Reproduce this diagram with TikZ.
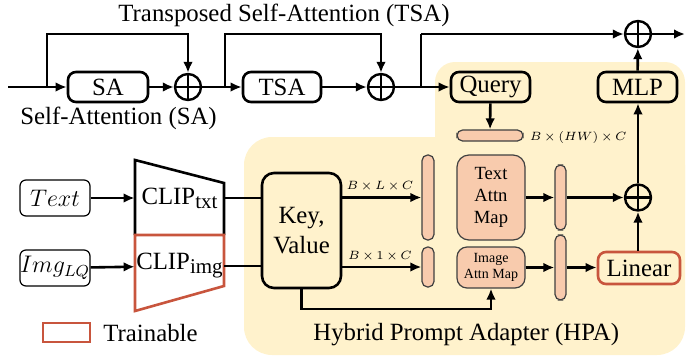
\documentclass[tikz,border=0pt]{standalone}
\usepackage{fontspec}
\setmainfont{Liberation Serif}
\usetikzlibrary{arrows.meta,calc}
\definecolor{bgyellow}{HTML}{FFF2CC}
\definecolor{salmon}{HTML}{F8CBAD}
\definecolor{salborder}{HTML}{404040}
\definecolor{trainred}{HTML}{C8553D}
\newcommand{\tms}{\,{\times}\,}
\begin{document}
\begin{tikzpicture}[x=0.5pt,y=-0.5pt,
  font=\fontsize{12.4}{14}\selectfont,
  arr/.style={-{Latex[length=5.5pt,width=4.8pt]}, line width=1.3pt},
  ln/.style={line width=1.3pt},
  blk/.style={draw, line width=1.3pt, rounded corners=4pt, inner sep=0pt},
  inbox/.style={draw, line width=0.6pt, rounded corners=3pt, inner sep=0pt, minimum width=35pt, minimum height=18pt},
  sal/.style={draw=salborder, fill=salmon, line width=0.6pt, inner sep=0pt},
  pill/.style={sal, rounded corners=2.8pt},
  oplus/.style={circle, draw, line width=1.2pt, minimum size=13pt, inner sep=0pt,
    path picture={\draw[line width=1.2pt] (path picture bounding box.north) -- (path picture bounding box.south)
      (path picture bounding box.west) -- (path picture bounding box.east);}},
  dimlbl/.style={font=\fontsize{6.1}{7}\selectfont, inner sep=0pt},
  plain/.style={inner sep=0pt}
]
\useasboundingbox (0,0) rectangle (686,360);
% background
\fill[bgyellow, rounded corners=14pt] (244,137) rectangle (685,355);
\fill[bgyellow, rounded corners=10pt] (435,62) rectangle (685,220);

% top row
\node[blk, minimum width=40pt, minimum height=15pt] (SA) at (108,87) {SA};
\node[oplus] (c1) at (188,87) {};
\node[blk, minimum width=39pt, minimum height=15pt] (TSA) at (282,87) {TSA};
\node[oplus] (c2) at (381,87) {};
\node[blk, minimum width=39.5pt, minimum height=15pt] (Q) at (490.5,87) {Query};
\node[blk, minimum width=39.5pt, minimum height=15pt] (MLP) at (637.5,87) {MLP};
\node[oplus] (c3) at (638,34) {};
\node[pill, minimum width=33pt, minimum height=5.5pt] (qbar) at (490,135.5) {};
\node[dimlbl, anchor=east] (dq) at (627,137) {$B\tms(HW)\tms C$};

\node[plain, anchor=base] (tsal) at (284,21) {Transposed Self-Attention (TSA)};
\node[plain, anchor=base west] (sal) at (20,124) {Self-Attention (SA)};

\coordinate (start) at (8,87);
\coordinate (b1) at (47,87);
\coordinate (t1) at (47,34);
\coordinate (b2) at (225,87);
\coordinate (t2) at (225,34);
\coordinate (b3) at (421,87);
\coordinate (t3) at (421,34);
\coordinate (outE) at (685,34);

\draw[arr] (start) -- (SA);
\draw[arr] (b1) -- (t1) -| (c1);
\draw[arr] (SA) -- (c1);
\draw[arr] (c1) -- (TSA);
\draw[arr] (b2) -- (t2) -| (c2);
\draw[arr] (TSA) -- (c2);
\draw[arr] (c2) -- (Q);
\draw[ln] (b3) -- (t3);
\draw[arr] (t3) -- (c3);
\draw[arr] (c3) -- (outE);
\draw[arr] (MLP) -- (c3);
\draw[arr] (Q) -- (qbar);

% inputs
\node[inbox] (txt) at (55,198) {\fontsize{11.5}{12}\selectfont$Text$};
\node[inbox] (img) at (55,268) {\fontsize{11.5}{12}\selectfont$Img_{LQ}$};

% CLIP trapezoid
\draw[line width=1.3pt, line join=miter] (135,235) -- (135,160) -- (224,183) -- (224,235);
\draw[trainred, line width=1.3pt, line join=miter] (135,235) -- (224,235) -- (224,286) -- (135,311) -- cycle;
\node[plain, minimum width=44.5pt] (ctxt) at (179.5,198) {CLIP\raisebox{-0.35ex}{\fontsize{10.5}{12}\selectfont txt}};
\node[plain, minimum width=44.5pt] (cimg) at (179.5,266) {CLIP\raisebox{-0.35ex}{\fontsize{10.5}{12}\selectfont img}};
\draw[arr] (txt) -- (ctxt);
\draw[arr] (img) -- (cimg);

% legend
\draw[trainred, line width=0.8pt] (43,323) rectangle (90,342);
\node[plain, anchor=base west] (trl) at (103,341) {Trainable};
\node[plain, anchor=base west] (hpal) at (313,340) {Hybrid Prompt Adapter (HPA)};

% HPA
\node[blk, rounded corners=6pt, minimum width=39.5pt, minimum height=57.5pt, align=center] (KV) at (301.5,230.5) {Key,\\[1pt]Value};
\draw[ln] (ctxt.east) -- (ctxt.east -| KV.west);
\draw[ln] (cimg.east) -- (cimg.east -| KV.west);

\node[pill, minimum width=6pt, minimum height=42.5pt] (bar1) at (428,197.5) {};
\node[pill, minimum width=6pt, minimum height=20pt] (bar2) at (428,267) {};
\node[sal, rounded corners=6pt, minimum width=34pt, minimum height=42.5pt, align=center, font=\fontsize{9.3}{11}\selectfont] (TAM) at (491,197.5) {Text\\Attn\\Map};
\node[sal, rounded corners=5pt, minimum width=34pt, minimum height=20.5pt, align=center, font=\fontsize{7}{8}\selectfont] (IAM) at (491,267.5) {Image\\Attn Map};
\node[pill, minimum width=5.5pt, minimum height=32.5pt] (bar3) at (560.5,197.5) {};
\node[pill, minimum width=5.5pt, minimum height=32.5pt] (bar4) at (560.5,267.5) {};
\node[oplus] (c4) at (638,197.5) {};
\node[blk, draw=trainred, minimum width=41pt, minimum height=16pt] (Lin) at (639,268) {Linear};

\draw[arr] (bar1.west -| KV.east) -- (bar1.west);
\draw[arr] (bar2.west -| KV.east) -- (bar2.west);
\node[dimlbl] (d1) at (380,186) {$B\tms L\tms C$};
\node[dimlbl] (d2) at (380,256) {$B\tms 1\tms C$};

\coordinate (kvb) at (491,309);
\draw[arr] (KV.south) |- (kvb) -- (IAM.south);
\draw[arr] (TAM) -- (bar3);
\draw[arr] (IAM) -- (bar4);
\draw[arr] (bar3) -- (c4);
\draw[arr] (bar4.east) -- (bar4.east -| Lin.west);
\draw[arr] (Lin.north -| c4) -- (c4);
\draw[arr] (c4) -- (MLP.south -| c4);
\end{tikzpicture}
\end{document}
